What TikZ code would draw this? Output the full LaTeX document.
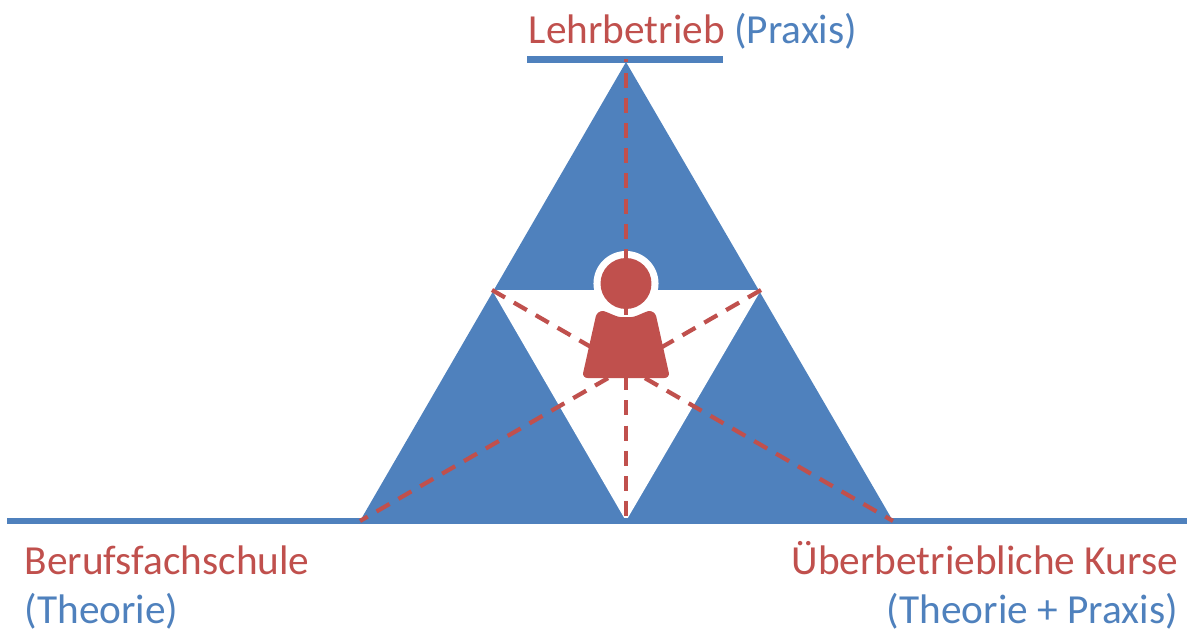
\documentclass[tikz,border=0pt]{standalone}
\usepackage{fontspec}
\setmainfont{Carlito}
\usepackage{xcolor}
\usepackage{tikz}
\usetikzlibrary{calc}
\definecolor{barblue}{HTML}{4F81BD}
\definecolor{pupilred}{HTML}{C0504D}
\tikzset{ place_label/.style = {inner sep=0pt, text=barblue, font=\fontsize{11.75}{14}\selectfont} }
\tikzset{ base_bar/.style = {line width=1.8pt, draw=barblue} }
\tikzset{ spoke/.style = {line width=1.2pt, draw=pupilred, dash pattern=on 4.27pt off 2.9pt} }
\tikzset{ head_dot/.style = {circle, fill=pupilred, inner sep=0pt, minimum size=14.5pt} }
\tikzset{ halo_dot/.style = {circle, fill=white, inner sep=0pt, minimum size=18.5pt} }

\begin{document}
\begin{tikzpicture}[x=0.01cm, y=-0.01cm]
    \useasboundingbox (0,0) rectangle (1187,630);
    % triangle corners
    \coordinate (top) at (626,62);
    \coordinate (left) at (360,521);
    \coordinate (right) at (893,521);
    \coordinate (innerl) at (492,290);
    \coordinate (innerr) at (761,290);
    \coordinate (innerb) at (626,521);
    \coordinate (barl) at (7,521);
    \coordinate (barr) at (1187,521);
    \coordinate (capl) at (527,59.5);
    \coordinate (capr) at (723,59.5);
    \coordinate (captop) at (626,59);
    \fill[barblue] (top) -- (left) -- (right) -- cycle;
    \fill[white] (innerl) -- (innerr) -- (innerb) -- cycle;
    \draw[base_bar] (barl) -- (barr);
    \draw[base_bar] (capl) -- (capr);
    % person
    \node[halo_dot] (halo) at (626,283.5) {};
    \node[head_dot] (head) at (626,283.5) {};
    \fill[pupilred, rounded corners=1.6pt] (597,311) .. controls (606,311) and (616,317) .. (626,317)
        .. controls (636,317) and (646,311) .. (655,311) -- (670,378) -- (582,378) -- cycle;
    % spokes
    \draw[spoke, dash phase=3.3pt] (captop) -- (innerb);
    \draw[spoke] (innerl) -- (right);
    \draw[spoke] (innerr) -- (left);
    % labels
    \node[place_label, anchor=base west] (praxis) at (528,43) {\textcolor{pupilred}{Lehrbetrieb} (Praxis)};
    \node[place_label, anchor=base west] (schule) at (24,574) {\textcolor{pupilred}{Berufsfachschule}};
    \node[place_label, anchor=base west] (theorie) at (24,623) {(Theorie)};
    \node[place_label, anchor=base east] (kurse) at (1178.5,574) {\textcolor{pupilred}{Überbetriebliche Kurse}};
    \node[place_label, anchor=base east] (beides) at (1178.5,623) {(Theorie + Praxis)};
\end{tikzpicture}
\end{document}
